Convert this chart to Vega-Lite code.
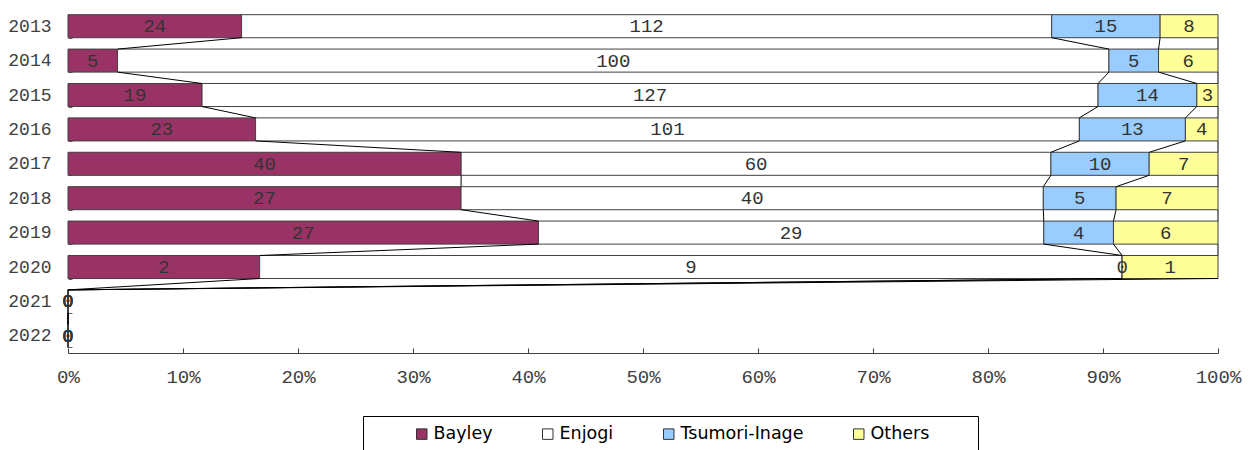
{
  "$schema": "https://vega.github.io/schema/vega-lite/v6.json",
  "width": 1150,
  "height": 344,
  "autosize": {"type": "none"},
  "padding": {"left": 68, "top": 9, "right": 34, "bottom": 97},
  "config": {"view": {"stroke": null}, "font": "Liberation Mono"},
  "data": {
    "values": [
      {"year": "2013", "series": "Bayley", "order": 1, "value": 24},
      {"year": "2013", "series": "Enjogi", "order": 2, "value": 112},
      {"year": "2013", "series": "Tsumori-Inage", "order": 3, "value": 15},
      {"year": "2013", "series": "Others", "order": 4, "value": 8},
      {"year": "2014", "series": "Bayley", "order": 1, "value": 5},
      {"year": "2014", "series": "Enjogi", "order": 2, "value": 100},
      {"year": "2014", "series": "Tsumori-Inage", "order": 3, "value": 5},
      {"year": "2014", "series": "Others", "order": 4, "value": 6},
      {"year": "2015", "series": "Bayley", "order": 1, "value": 19},
      {"year": "2015", "series": "Enjogi", "order": 2, "value": 127},
      {"year": "2015", "series": "Tsumori-Inage", "order": 3, "value": 14},
      {"year": "2015", "series": "Others", "order": 4, "value": 3},
      {"year": "2016", "series": "Bayley", "order": 1, "value": 23},
      {"year": "2016", "series": "Enjogi", "order": 2, "value": 101},
      {"year": "2016", "series": "Tsumori-Inage", "order": 3, "value": 13},
      {"year": "2016", "series": "Others", "order": 4, "value": 4},
      {"year": "2017", "series": "Bayley", "order": 1, "value": 40},
      {"year": "2017", "series": "Enjogi", "order": 2, "value": 60},
      {"year": "2017", "series": "Tsumori-Inage", "order": 3, "value": 10},
      {"year": "2017", "series": "Others", "order": 4, "value": 7},
      {"year": "2018", "series": "Bayley", "order": 1, "value": 27},
      {"year": "2018", "series": "Enjogi", "order": 2, "value": 40},
      {"year": "2018", "series": "Tsumori-Inage", "order": 3, "value": 5},
      {"year": "2018", "series": "Others", "order": 4, "value": 7},
      {"year": "2019", "series": "Bayley", "order": 1, "value": 27},
      {"year": "2019", "series": "Enjogi", "order": 2, "value": 29},
      {"year": "2019", "series": "Tsumori-Inage", "order": 3, "value": 4},
      {"year": "2019", "series": "Others", "order": 4, "value": 6},
      {"year": "2020", "series": "Bayley", "order": 1, "value": 2},
      {"year": "2020", "series": "Enjogi", "order": 2, "value": 9},
      {"year": "2020", "series": "Tsumori-Inage", "order": 3, "value": 0},
      {"year": "2020", "series": "Others", "order": 4, "value": 1},
      {"year": "2021", "series": "Bayley", "order": 1, "value": 0},
      {"year": "2021", "series": "Enjogi", "order": 2, "value": 0},
      {"year": "2021", "series": "Tsumori-Inage", "order": 3, "value": 0},
      {"year": "2021", "series": "Others", "order": 4, "value": 0},
      {"year": "2022", "series": "Bayley", "order": 1, "value": 0},
      {"year": "2022", "series": "Enjogi", "order": 2, "value": 0},
      {"year": "2022", "series": "Tsumori-Inage", "order": 3, "value": 0},
      {"year": "2022", "series": "Others", "order": 4, "value": 0}
    ]
  },
  "transform": [
    {"stack": "value", "groupby": ["year"], "sort": [{"field": "order"}], "offset": "normalize", "as": ["r0", "r1"]},
    {"calculate": "isFinite(datum.r0) ? datum.r0 : 0", "as": "s0"},
    {"calculate": "isFinite(datum.r1) ? datum.r1 : 0", "as": "s1"},
    {"calculate": "(datum.s0 + datum.s1) / 2", "as": "mid"}
  ],
  "layer": [
    {
      "mark": {"type": "bar", "stroke": "#404040", "strokeWidth": 1},
      "encoding": {
        "y": {
          "field": "year",
          "type": "ordinal",
          "scale": {"paddingInner": 0.33, "paddingOuter": 0.165},
          "axis": {
            "title": null,
            "domain": false,
            "tickBand": "extent",
            "tickSize": -4,
            "tickColor": "#606060",
            "labelFont": "Liberation Mono",
            "labelFontSize": 18,
            "labelColor": "#404040",
            "labelPadding": 21
          }
        },
        "x": {
          "field": "s0",
          "type": "quantitative",
          "scale": {"domain": [0, 1], "nice": false},
          "axis": {
            "title": null,
            "values": [0, 0.1, 0.2, 0.3, 0.4, 0.5, 0.6, 0.7, 0.8, 0.9, 1],
            "format": "%",
            "grid": false,
            "labelFlush": false,
            "labelOverlap": false,
            "domainColor": "#404040",
            "tickColor": "#404040",
            "tickSize": -5,
            "labelFont": "Liberation Mono",
            "labelFontSize": 19,
            "labelColor": "#404040",
            "labelPadding": 19
          }
        },
        "x2": {"field": "s1"},
        "color": {
          "field": "series",
          "type": "nominal",
          "scale": {
            "domain": ["Bayley", "Enjogi", "Tsumori-Inage", "Others"],
            "range": ["#993366", "#ffffff", "#99ccff", "#ffff99"]
          },
          "legend": {
            "orient": "none",
            "legendX": 295,
            "legendY": 407,
            "direction": "horizontal",
            "strokeColor": "#000000",
            "fillColor": "#ffffff",
            "padding": 9,
            "title": "\u00a0",
            "titleOrient": "left",
            "titlePadding": 41,
            "columnPadding": 46,
            "labelFont": "DejaVu Sans",
            "labelFontSize": 17.5,
            "labelColor": "#000000",
            "labelOffset": 3,
            "labelLimit": 300,
            "labelExpr": "datum.label == 'Others' ? 'Others\u00a0\u00a0\u00a0\u00a0\u00a0\u00a0\u00a0\u200b' : datum.label",
            "symbolType": "square",
            "symbolSize": 110,
            "symbolStrokeColor": "#333333",
            "symbolStrokeWidth": 1,
            "symbolOpacity": 1
          }
        }
      }
    },
    {
      "transform": [
        {"window": [{"op": "lead", "field": "s1", "as": "n1"}, {"op": "lead", "field": "year", "as": "nyear"}], "groupby": ["series"], "sort": [{"field": "year"}]},
        {"filter": "isValid(datum.nyear)"}
      ],
      "mark": {"type": "rule", "color": "#000000", "strokeWidth": 1, "yOffset": 11.5, "y2Offset": -11.5},
      "encoding": {
        "x": {"field": "s1", "type": "quantitative"},
        "x2": {"field": "n1"},
        "y": {"field": "year", "type": "ordinal"},
        "y2": {"field": "nyear"}
      }
    },
    {
      "mark": {"type": "text", "font": "Liberation Mono", "fontSize": 19, "color": "#333333"},
      "encoding": {
        "x": {"field": "mid", "type": "quantitative"},
        "y": {"field": "year", "type": "ordinal"},
        "text": {"field": "value", "type": "quantitative"}
      }
    }
  ]
}
